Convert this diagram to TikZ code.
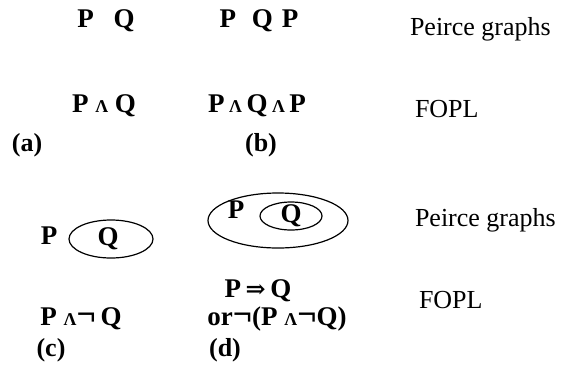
\documentclass[tikz,border=0pt]{standalone}
\usepackage{fontspec}
\setmainfont{Liberation Serif}
\newfontfamily\djv{DejaVu Serif}
\begin{document}
\begin{tikzpicture}[x=1pt,y=-1pt,
  every node/.style={inner sep=0pt,outer sep=0pt},
  frm/.style={anchor=base,font=\fontsize{27}{27}\selectfont\bfseries},
  lbl/.style={anchor=base west,font=\fontsize{26}{26}\selectfont},
  sublbl/.style={anchor=base,font=\fontsize{26}{26}\selectfont\bfseries},
  cut/.style={draw,line width=1.2pt}]
\newcommand{\mywdg}{{\fontsize{18}{18}\selectfont Λ}}
\newcommand{\myneg}{\smash{\fontsize{34}{34}\selectfont ¬}}
\useasboundingbox (0,0) rectangle (567,365);
% row 1
\node[frm] (a1) at (106,27) {P\hspace{20pt}Q};
\node[frm] (b1) at (259,27) {P\hspace{16pt}Q\hspace{9pt}P};
\node[lbl] (pg1) at (410,35) {Peirce graphs};
% row 2
\node[frm] (a2) at (104,112) {P \mywdg\ Q};
\node[frm] (b2) at (257,112) {P\,\mywdg\,Q\,\mywdg\,P};
\node[lbl] (fo1) at (415,117) {FOPL};
\node[sublbl] (la) at (27,151) {(a)};
\node[sublbl] (lb) at (261,151) {(b)};
% (c) graph
\node[frm] (cp) at (49,244) {P};
\draw[cut] (111,239) ellipse [x radius=42, y radius=19];
\node[frm] (cq) at (108,245) {Q};
% (d) graph
\draw[cut] (278,220.5) ellipse [x radius=70, y radius=27.5];
\node[frm] (dp) at (236,218) {P};
\draw[cut] (291,216) ellipse [x radius=31, y radius=14];
\node[frm] (dq) at (291,222) {Q};
\node[lbl] (pg2) at (415,226) {Peirce graphs};
% formulas
\node[frm] (cf) at (81,325) {P \mywdg\myneg\,Q};
\node[frm] (df1) at (258,297) {P\,{\djv\fontsize{24}{24}\selectfont ⇒}\,Q};
\node[frm] (df2) at (277,325) {or\myneg(P \mywdg\myneg Q)};
\node[lbl] (fo2) at (419,308) {FOPL};
\node[sublbl] (lc) at (51,356) {(c)};
\node[sublbl] (ld) at (225,356) {(d)};
\end{tikzpicture}
\end{document}
